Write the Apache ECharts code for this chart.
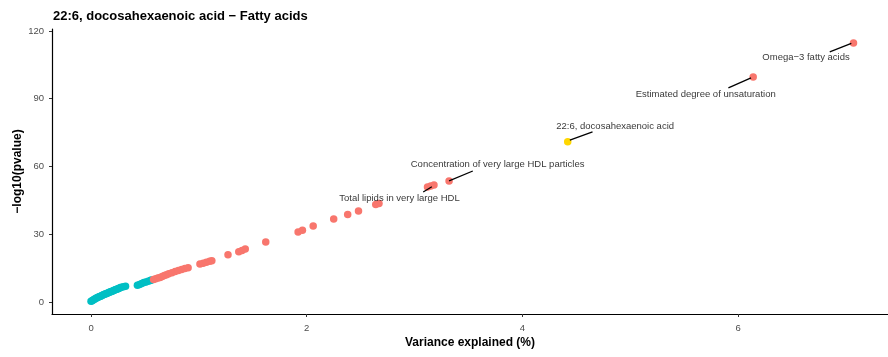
<!DOCTYPE html>
<html><head><meta charset="utf-8">
<script src="https://cdn.jsdelivr.net/npm/echarts@6/dist/echarts.min.js"></script>
<style>html,body{margin:0;padding:0;background:#fff}#c{width:888px;height:357px}</style>
</head><body><div id="c"></div>
<script>
// Non-significant / other group (cyan)
const cyanX = [0.00,0.01,0.02,0.03,0.04,0.05,0.06,0.07,0.08,0.09,0.10,0.11,0.12,0.13,0.14,0.15,0.16,0.17,0.18,0.19,0.20,0.21,0.22,0.23,0.24,0.25,0.26,0.27,0.28,0.30,0.32,0.43,0.45,0.47,0.49,0.51,0.53,0.55,0.56];
const cyanY = [0.3,0.6,0.9,1.2,1.5,1.8,2.0,2.2,2.4,2.6,2.9,3.1,3.3,3.5,3.7,3.9,4.1,4.3,4.5,4.7,4.9,5.1,5.3,5.5,5.7,5.9,6.1,6.3,6.5,6.8,7.0,7.4,7.8,8.2,8.6,8.9,9.2,9.5,9.8];
// Fatty acids group (red)
const redX = [0.58,0.60,0.62,0.64,0.66,0.68,0.70,0.72,0.75,0.78,0.81,0.84,0.87,0.90,1.01,1.04,1.07,1.10,1.12,1.27,1.37,1.40,1.43,1.62,1.92,1.96,2.06,2.25,2.38,2.48,2.64,2.67,3.12,3.15,3.18,3.32,6.14,7.07];
const redY = [10.0,10.3,10.6,10.9,11.3,11.7,12.1,12.5,13.0,13.5,14.0,14.4,14.8,15.2,16.8,17.2,17.6,18.0,18.3,20.9,22.3,22.8,23.5,26.6,31.0,31.8,33.7,36.8,38.7,40.3,43.2,43.6,50.9,51.4,51.8,53.6,99.6,114.7];
// Highlighted trait (yellow)
const hiX = [4.42];
const hiY = [70.9];
// Annotation labels
const labelNames = ["Omega\u22123 fatty acids","Estimated degree of unsaturation","22:6, docosahexaenoic acid","Concentration of very large HDL particles","Total lipids in very large HDL"];
const labelX = [6.63,5.70,4.86,3.77,2.86];
const labelY = [108.1,92.1,77.9,61.1,46.1];
// Label connector segments: [x1,y1,x2,y2]
const segX1 = [6.85,5.91,4.44,3.32,3.08];
const segY1 = [110.7,94.8,71.7,53.6,48.7];
const segX2 = [7.05,6.12,4.65,3.54,3.16];
const segY2 = [114.5,99.2,75.3,58.0,51.0];
const xTicks = [0,2,4,6];
const yTicks = [0,30,60,90,120];

const zip = (a,b)=>a.map((v,i)=>[v,b[i]]);
const segSeries = segX1.map((_,i)=>({
  type:'line', data:[[segX1[i],segY1[i]],[segX2[i],segY2[i]]],
  showSymbol:false, symbol:'none', silent:true, animation:false,
  lineStyle:{color:'#000',width:1.3}
}));
const chart = echarts.init(document.getElementById('c'),null,{renderer:'canvas'});
chart.setOption({
  animation:false,
  title:{text:'22:6, docosahexaenoic acid \u2212 Fatty acids',left:48,top:5,
    textStyle:{fontFamily:'Liberation Sans, Arial',fontWeight:'bold',fontSize:13,color:'#000'}},
  grid:{left:52,right:0,top:29,bottom:43,containLabel:false,outerBoundsMode:'none'},
  xAxis:{type:'value',min:-0.362,max:7.39,
    name:'Variance explained (%)',nameLocation:'middle',nameGap:23,nameMoveOverlap:false,
    nameTextStyle:{fontFamily:'Liberation Sans, Arial',fontWeight:'bold',fontSize:12,color:'#000'},
    axisLine:{show:true,onZero:false,lineStyle:{color:'#000',width:1.2}},
    axisTick:{show:true,length:3,customValues:xTicks,lineStyle:{color:'#333'}},
    axisLabel:{customValues:xTicks,color:'#4D4D4D',fontSize:9.5,margin:9,fontFamily:'Liberation Sans, Arial'},
    splitLine:{show:false}},
  yAxis:{type:'value',min:-5.3,max:120.85,
    name:'\u2212log10(pvalue)',nameLocation:'middle',nameGap:28,nameRotate:90,nameMoveOverlap:false,
    nameTextStyle:{fontFamily:'Liberation Sans, Arial',fontWeight:'bold',fontSize:12,color:'#000'},
    axisLine:{show:true,onZero:false,lineStyle:{color:'#000',width:1.2}},
    axisTick:{show:true,length:3,customValues:yTicks,lineStyle:{color:'#333'}},
    axisLabel:{customValues:yTicks,color:'#4D4D4D',fontSize:9.5,margin:8,fontFamily:'Liberation Sans, Arial'},
    splitLine:{show:false}},
  series:[
    ...segSeries,
    {type:'scatter',data:zip(cyanX,cyanY),symbolSize:7.5,itemStyle:{color:'#00BFC4',opacity:1}},
    {type:'scatter',data:zip(redX,redY),symbolSize:7.5,itemStyle:{color:'#F8766D',opacity:1}},
    {type:'scatter',data:zip(hiX,hiY),symbolSize:7.5,itemStyle:{color:'#FFD700',opacity:1}},
    {type:'scatter',data:labelNames.map((n,i)=>({name:n,value:[labelX[i],labelY[i]]})),
      symbolSize:0,silent:true,
      label:{show:true,position:'inside',formatter:p=>p.name,color:'#000',fontSize:9.5,
        fontFamily:'Liberation Sans, Arial'}}
  ]
});
</script></body></html>
